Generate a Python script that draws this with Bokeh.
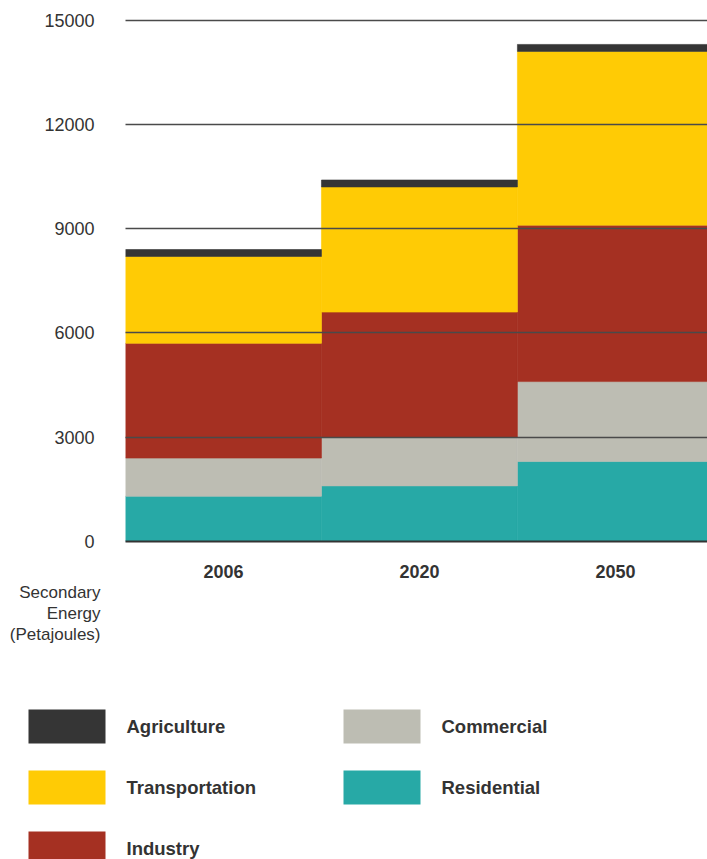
from bokeh.plotting import figure
from bokeh.models import Range1d, FixedTicker, ColumnDataSource
from bokeh.layouts import column
from bokeh.embed import file_html
from bokeh.resources import INLINE
from bokeh.core.properties import value

# ---- data (Petajoules) ----
years = ["2006", "2020", "2050"]
residential = [1300, 1600, 2300]
commercial = [1100, 1400, 2300]
industry = [3300, 3600, 4500]
transportation = [2500, 3600, 5000]
agriculture = [200, 200, 200]

y_ticks = [0, 3000, 6000, 9000, 12000, 15000]
axis_title = ["Secondary", "Energy", "(Petajoules)"]

series = ["Residential", "Commercial", "Industry", "Transportation", "Agriculture"]
colors = ["#27A9A6", "#BDBDB3", "#A53022", "#FFCB05", "#353535"]
legend_order = ["Agriculture", "Transportation", "Industry", "Commercial", "Residential"]

FONT = "Liberation Sans"
TXT = "#333333"
SPLIT = 580  # pixel row where the lower panel begins

xs = [i + 0.5 for i in range(len(years))]
src = ColumnDataSource(dict(x=xs, Residential=residential, Commercial=commercial,
                            Industry=industry, Transportation=transportation,
                            Agriculture=agriculture))

p = figure(width=707, height=SPLIT, output_backend="svg", toolbar_location=None,
           x_range=Range1d(0, 2.97), y_range=Range1d(0, 15420),
           min_border_left=125, min_border_right=0, min_border_top=5,
           min_border_bottom=SPLIT - 541)
p.frame_align = False
p.vbar_stack(series, x="x", width=1.0, source=src, color=colors,
             line_color=colors, line_width=0.6)

p.outline_line_color = None
p.xgrid.visible = False
p.ygrid.ticker = FixedTicker(ticks=y_ticks)
p.ygrid.grid_line_color = "#4a4a4a"
p.ygrid.grid_line_width = 1.5
p.ygrid.level = "overlay"

p.yaxis.ticker = FixedTicker(ticks=y_ticks)
p.yaxis.axis_line_color = None
p.yaxis.major_tick_line_color = None
p.yaxis.minor_tick_line_color = None
p.yaxis.major_label_standoff = 25
p.yaxis.major_label_text_font = FONT
p.yaxis.major_label_text_font_size = "18px"
p.yaxis.major_label_text_color = TXT

p.xaxis.ticker = FixedTicker(ticks=xs)
p.xaxis.major_label_overrides = {x: y for x, y in zip(xs, years)}
p.xaxis.axis_line_color = "#333333"
p.xaxis.axis_line_width = 2
p.xaxis.major_tick_line_color = None
p.xaxis.minor_tick_line_color = None
p.xaxis.major_label_standoff = 17
p.xaxis.major_label_text_font = FONT
p.xaxis.major_label_text_font_style = "bold"
p.xaxis.major_label_text_font_size = "18px"
p.xaxis.major_label_text_color = TXT

# ---- lower panel: axis title + legend, coordinates in pixels ----
q = figure(width=707, height=859 - SPLIT, output_backend="svg", toolbar_location=None,
           x_range=Range1d(0, 707), y_range=Range1d(859, SPLIT),
           min_border=0)
q.frame_align = False
q.axis.visible = False
q.grid.visible = False
q.outline_line_color = None

q.text(x=[100] * 3, y=[592, 613, 634], text=axis_title, text_align="right",
       text_baseline="middle", text_font=value(FONT), text_font_size="17px",
       text_color=TXT)

col_sw = [28, 28, 28, 343, 343]
row_c = [726, 787, 848, 726, 787]
leg_colors = [colors[series.index(n)] for n in legend_order]
q.quad(left=col_sw, right=[c + 77 for c in col_sw],
       top=[r - 17 for r in row_c], bottom=[r + 17 for r in row_c],
       color=leg_colors, line_color=None)
q.text(x=[c + 98 for c in col_sw], y=row_c, text=legend_order, text_align="left",
       text_baseline="middle", text_font=value(FONT), text_font_style="bold",
       text_font_size="18.5px", text_color=TXT)

layout = column(p, q, spacing=0)
open("out.html", "w").write(file_html(layout, INLINE))
